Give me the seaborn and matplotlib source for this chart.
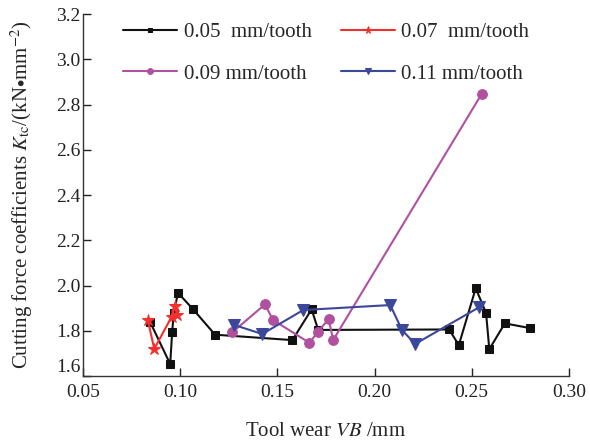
import matplotlib
matplotlib.use("Agg")
import matplotlib.pyplot as plt
import seaborn as sns
import pandas as pd

# Data
x_005 = [0.0844, 0.0948, 0.0958, 0.0966, 0.0988, 0.1063, 0.1179, 0.1577, 0.1676, 0.1710,
         0.2384, 0.2434, 0.2521, 0.2574, 0.2591, 0.2671, 0.2801]
y_005 = [1.840, 1.653, 1.793, 1.877, 1.968, 1.898, 1.783, 1.759, 1.895, 1.804,
         1.806, 1.737, 1.988, 1.880, 1.719, 1.833, 1.812]
x_007 = [0.0832, 0.0866, 0.0955, 0.0974, 0.0981]
y_007 = [1.850, 1.720, 1.862, 1.912, 1.872]
x_009 = [0.1267, 0.1436, 0.1477, 0.1665, 0.1708, 0.1764, 0.1787, 0.2552]
y_009 = [1.793, 1.917, 1.848, 1.747, 1.796, 1.852, 1.759, 2.848]
x_011 = [0.1277, 0.1422, 0.1633, 0.2081, 0.2141, 0.2209, 0.2538]
y_011 = [1.826, 1.786, 1.892, 1.914, 1.804, 1.742, 1.904]

labels = ["0.05  mm/tooth", "0.07  mm/tooth", "0.09 mm/tooth", "0.11 mm/tooth"]
xticks = [0.05, 0.10, 0.15, 0.20, 0.25, 0.30]
yticks = [1.6, 1.8, 2.0, 2.2, 2.4, 2.6, 2.8, 3.0, 3.2]

sns.set_style("ticks")
plt.rcParams["font.family"] = ["Liberation Serif", "DejaVu Serif"]
plt.rcParams["mathtext.fontset"] = "stix"

fig = plt.figure(figsize=(5.9, 4.44), dpi=100)
ax = fig.add_axes([0.141, 0.153, 0.823, 0.815])

series = [
    (x_005, y_005, labels[0], "#111111", "s", 6),
    (x_007, y_007, labels[1], "#f2302d", "*", 9),
    (x_009, y_009, labels[2], "#b0509f", "o", 7),
    (x_011, y_011, labels[3], "#3b479b", "v", 8),
]
handles = {}
for xs, ys, lab, col, mk, ms in series:
    df = pd.DataFrame({"x": xs, "y": ys})
    sns.lineplot(data=df, x="x", y="y", sort=False, ax=ax, color=col, marker=mk,
                 markersize=ms, markeredgecolor=col, markerfacecolor=col,
                 linewidth=1.5, label=lab, legend=False)
    handles[lab] = ax.lines[-1]

ax.set_xlim(0.05, 0.30)
ax.set_ylim(1.6, 3.2)
ax.set_xticks(xticks)
ax.set_xticklabels([f"{t:.2f}" for t in xticks])
ax.set_yticks(yticks)
ax.set_yticklabels([f"{t:.1f}" for t in yticks])
ax.tick_params(direction="in", length=6, width=1, labelsize=14, colors="#222222")
ax.tick_params(axis="y", pad=2)
ax.tick_params(axis="x", pad=6)
ax.get_yticklabels()[0].set_verticalalignment("bottom")
for s in ["top", "right"]:
    ax.spines[s].set_visible(False)
for s in ["left", "bottom"]:
    ax.spines[s].set_color("#333333")
    ax.spines[s].set_linewidth(1)

ax.set_xlabel(r"Tool wear $\mathit{VB}$ /mm", fontsize=15, labelpad=15)
ax.set_ylabel(r"Cutting force coefficients $K_{\mathrm{tc}}$/(kN$\bullet$mm$^{-2}$)", fontsize=15, labelpad=15)

order = [labels[0], labels[2], labels[1], labels[3]]
leg = ax.legend([handles[l] for l in order], order, ncol=2, frameon=False,
                loc="upper left", bbox_to_anchor=(0.065, 1.0), fontsize=15,
                handlelength=2.6, columnspacing=1.4, handletextpad=0.3,
                labelspacing=1.05, markerscale=0.6, borderaxespad=0)

fig.savefig("out.png", dpi=100)
